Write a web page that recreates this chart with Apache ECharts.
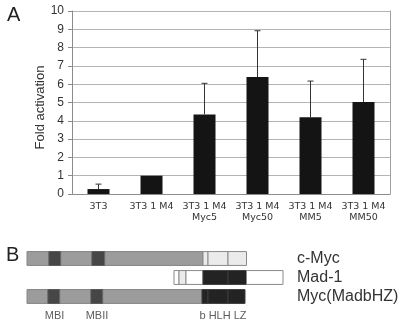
<!DOCTYPE html>
<html>
<head>
<meta charset="utf-8">
<script src="https://cdn.jsdelivr.net/npm/echarts@6/dist/echarts.min.js"></script>
<style>
  html, body { margin: 0; padding: 0; background: #fff; }
  #chart { width: 404px; height: 325px; }
</style>
</head>
<body>
<div id="chart"></div>
<script>
// panel A
const categories = ['3T3', '3T3 1 M4', '3T3 1 M4\nMyc5', '3T3 1 M4\nMyc50', '3T3 1 M4\nMM5', '3T3 1 M4\nMM50']
const foldActivation = [0.27, 1.0, 4.35, 6.39, 4.19, 5.03]
const errorUpper = [0.27, 0, 1.7, 2.53, 1.98, 2.33]
const yTicks = [0, 1, 2, 3, 4, 5, 6, 7, 8, 9, 10]

// panel B (positions in residues)
const proteins = ['c-Myc', 'Mad-1', 'Myc(MadbHZ)', '']
const segments = [
  ['c-Myc', 0, 44, 'gray'], ['c-Myc', 44, 68, 'dark'], ['c-Myc', 68, 130, 'gray'],
  ['c-Myc', 130, 156, 'dark'], ['c-Myc', 156, 352, 'gray'], ['c-Myc', 352, 362, 'pale'],
  ['c-Myc', 362, 402, 'pale'], ['c-Myc', 402, 439, 'pale'],
  ['Mad-1', 294, 304, 'white'], ['Mad-1', 304, 318, 'pale'], ['Mad-1', 318, 352, 'white'],
  ['Mad-1', 352, 402, 'black'], ['Mad-1', 402, 439, 'black'], ['Mad-1', 439, 512, 'white'],
  ['Myc(MadbHZ)', 0, 42, 'gray'], ['Myc(MadbHZ)', 42, 66, 'dark'], ['Myc(MadbHZ)', 66, 128, 'gray'],
  ['Myc(MadbHZ)', 128, 152, 'dark'], ['Myc(MadbHZ)', 152, 350, 'gray'], ['Myc(MadbHZ)', 350, 362, 'black'],
  ['Myc(MadbHZ)', 362, 402, 'black'], ['Myc(MadbHZ)', 402, 436, 'black']
]
const domainNames = ['MBI', 'MBII', 'b HLH LZ']
const domainCenters = [55, 140, 392]

const fills = { gray: '#9c9c9c', dark: '#464646', pale: '#ebebeb', white: '#ffffff', black: '#232323' }
const strokes = { gray: '#858585', dark: '#555555', pale: '#8a8a8a', white: '#8a8a8a', black: '#3c3c3c' }

const chart = echarts.init(document.getElementById('chart'), null, { renderer: 'canvas' })

chart.setOption({
  animation: false,
  title: [
    { text: 'A', left: 2, top: 0, textStyle: { fontFamily: 'Liberation Sans', fontSize: 20, fontWeight: 'normal', color: '#222' } },
    { text: 'B', left: 1, top: 240, textStyle: { fontFamily: 'Liberation Sans', fontSize: 20, fontWeight: 'normal', color: '#222' } }
  ],
  grid: [
    { left: 72, right: 14, top: 11, bottom: 131 },
    { left: 27, width: 265, top: 249, height: 82 }
  ],
  xAxis: [
    {
      gridIndex: 0,
      type: 'category',
      data: categories,
      axisLine: { lineStyle: { color: '#8c8c8c' } },
      axisTick: { length: 4, lineStyle: { color: '#8c8c8c' } },
      axisLabel: { fontFamily: 'DejaVu Sans', fontSize: 9.5, color: '#333', margin: 7, lineHeight: 11, interval: 0 }
    },
    { gridIndex: 1, type: 'value', min: 0, max: 530, show: false }
  ],
  yAxis: [
    {
      gridIndex: 0,
      type: 'value',
      min: yTicks[0],
      max: yTicks[yTicks.length - 1],
      interval: 1,
      name: 'Fold activation',
      nameLocation: 'middle',
      nameGap: 25,
      nameMoveOverlap: false,
      nameTextStyle: { fontFamily: 'Liberation Sans', fontSize: 13, color: '#333', padding: [0, 0, 0, -10] },
      axisLine: { show: true, lineStyle: { color: '#8c8c8c' } },
      axisTick: { show: true, length: 4, lineStyle: { color: '#8c8c8c' } },
      axisLabel: { fontFamily: 'Liberation Sans', fontSize: 12, color: '#333', margin: 8 },
      splitLine: { lineStyle: { color: '#b4b4b4' } }
    },
    {
      gridIndex: 0,
      type: 'value',
      position: 'right',
      min: 0,
      max: 10,
      axisLine: { show: true, lineStyle: { color: '#a0a0a0' } },
      axisTick: { show: false },
      axisLabel: { show: false },
      splitLine: { show: false }
    },
    {
      gridIndex: 1,
      type: 'category',
      data: proteins,
      inverse: true,
      position: 'right',
      axisLine: { show: false },
      axisTick: { show: false },
      axisLabel: { fontFamily: 'Liberation Sans', fontSize: 16, color: '#333', margin: 5, interval: 0 }
    }
  ],
  series: [
    {
      type: 'bar',
      xAxisIndex: 0,
      yAxisIndex: 0,
      data: foldActivation,
      barWidth: 22,
      itemStyle: { color: '#141414' }
    },
    {
      type: 'custom',
      xAxisIndex: 0,
      yAxisIndex: 0,
      data: foldActivation.map((v, i) => [i, v, v + errorUpper[i]]),
      renderItem: (params, api) => {
        if (api.value(2) <= api.value(1)) return
        const base = api.coord([api.value(0), api.value(1)])
        const top = api.coord([api.value(0), api.value(2)])
        const style = { stroke: '#333', lineWidth: 1 }
        return {
          type: 'group',
          children: [
            { type: 'line', shape: { x1: base[0], y1: base[1], x2: top[0], y2: top[1] }, style },
            { type: 'line', shape: { x1: top[0] - 3, y1: top[1], x2: top[0] + 3, y2: top[1] }, style }
          ]
        }
      },
      z: 3
    },
    {
      type: 'custom',
      xAxisIndex: 1,
      yAxisIndex: 2,
      data: segments.map((s) => [proteins.indexOf(s[0]), s[1], s[2], s[3]]),
      renderItem: (params, api) => {
        const seg = segments[params.dataIndex]
        const row = api.value(0)
        const p0 = api.coord([api.value(1), row])
        const p1 = api.coord([api.value(2), row])
        const h = api.size([0, 1])[1] * 0.73
        return {
          type: 'rect',
          shape: { x: p0[0], y: p0[1] - h / 2, width: p1[0] - p0[0], height: h },
          style: { fill: fills[seg[3]], stroke: strokes[seg[3]], lineWidth: 1 }
        }
      }
    },
    {
      type: 'scatter',
      xAxisIndex: 1,
      yAxisIndex: 2,
      symbolSize: 0,
      data: domainNames.map((n, i) => ({ name: n, value: [domainCenters[i], 3] })),
      label: {
        show: true,
        position: 'inside',
        formatter: '{b}',
        fontFamily: 'Liberation Sans',
        fontSize: 11,
        color: '#333'
      }
    }
  ]
})
</script>
</body>
</html>
